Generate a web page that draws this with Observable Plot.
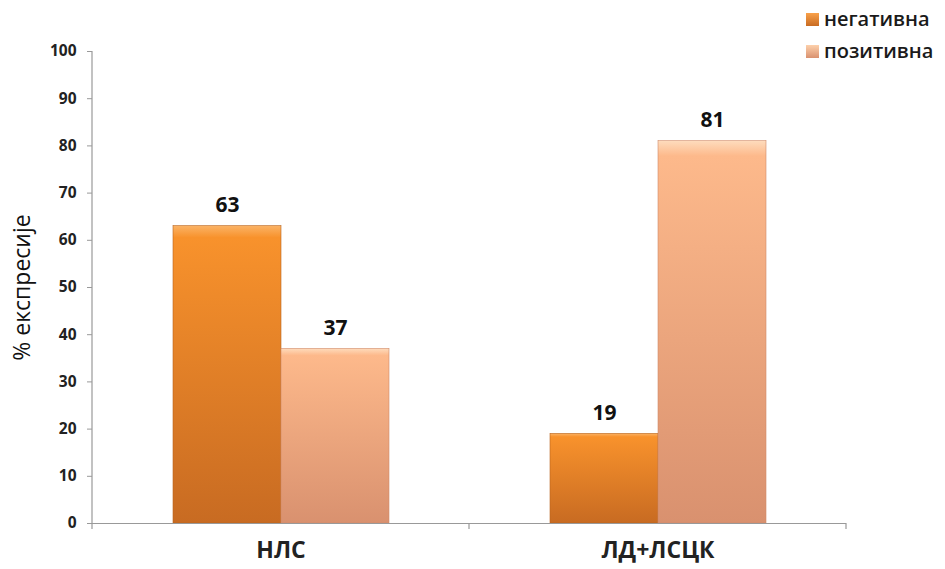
<!DOCTYPE html>
<html>
<head>
<meta charset="utf-8">
<script src="https://cdn.jsdelivr.net/npm/d3@7"></script>
<script src="https://cdn.jsdelivr.net/npm/@observablehq/plot@0.6"></script>
<style>
  html, body { margin: 0; padding: 0; background: #fff; }
  #wrap { position: relative; width: 945px; height: 569px; font-family: "Open Sans", sans-serif; }
  #legend { position: absolute; left: 806px; top: 3px; font-size: 20px; font-weight: 600; color: #1a1a1a; line-height: 32px; }
  #legend .item { display: flex; align-items: center; height: 32px; }
  #legend .sw { width: 13px; height: 13px; margin-right: 5px; }
</style>
</head>
<body>
<div id="wrap"><div id="legend"></div></div>
<script>
const categories = ["НЛС", "ЛД+ЛСЦК"];
const series = ["негативна", "позитивна"];
const negativna = [63, 19];
const pozitivna = [37, 81];
const yTicks = [0, 10, 20, 30, 40, 50, 60, 70, 80, 90, 100];
const yLabel = "% експресије";

const data = [];
categories.forEach((c, i) => {
  data.push({category: c, series: series[0], value: negativna[i]});
  data.push({category: c, series: series[1], value: pozitivna[i]});
});

const plot = Plot.plot({
  width: 945,
  height: 569,
  marginLeft: 92,
  marginRight: 99,
  marginTop: 51,
  marginBottom: 46,
  style: {fontFamily: "Open Sans, sans-serif", color: "#222", background: "#fff"},
  fx: {domain: categories, padding: 0},
  x: {domain: series, paddingInner: 0, paddingOuter: 0.745, axis: null},
  y: {domain: [0, 100]},
  marks: [
    Plot.barY(data.filter(d => d.series === series[0]), {fx: "category", x: "series", y: "value", fill: "url(#gNeg)", stroke: "#b8641f", strokeWidth: 0.6}),
    Plot.barY(data.filter(d => d.series === series[1]), {fx: "category", x: "series", y: "value", fill: "url(#gPos)", stroke: "#d08b6a", strokeWidth: 0.6}),
    Plot.ruleY([0], {stroke: "#999", strokeWidth: 1.2}),
    Plot.text(data, {fx: "category", x: "series", y: "value", text: d => String(d.value), lineAnchor: "bottom", dy: -14, fontSize: 21, fontWeight: "bold", fill: "#111"}),
    Plot.axisY({ticks: yTicks, tickSize: 5, tickPadding: 11, fontSize: 15.5, fontWeight: "bold", label: null, stroke: "#999", fill: "#222"}),
    Plot.text([{category: categories[0]}], {fx: "category", text: () => yLabel, frameAnchor: "left", textAnchor: "middle", rotate: -90, dx: -70, fontSize: 23, fill: "#111"}),
    Plot.axisFx({anchor: "bottom", tickSize: 0, tickPadding: 18, fontSize: 23, fontWeight: "bold", label: null})
  ]
});

// gradient defs
const svgNS = "http://www.w3.org/2000/svg";
const defs = document.createElementNS(svgNS, "defs");
defs.innerHTML = `
  <linearGradient id="gNeg" x1="0" y1="0" x2="0" y2="1">
    <stop offset="0" stop-color="#fbb366"/>
    <stop offset="0.04" stop-color="#f8922c"/>
    <stop offset="1" stop-color="#c86b22"/>
  </linearGradient>
  <linearGradient id="gPos" x1="0" y1="0" x2="0" y2="1">
    <stop offset="0" stop-color="#fedcbd"/>
    <stop offset="0.04" stop-color="#fdb98b"/>
    <stop offset="1" stop-color="#d9916f"/>
  </linearGradient>`;
plot.insertBefore(defs, plot.firstChild);

// axis lines and category separator ticks derived from the scales
const fx = plot.scale("fx"), y = plot.scale("y");
const y0 = y.apply(0), y100 = y.apply(100);
const left = fx.apply(categories[0]);
const g = document.createElementNS(svgNS, "g");
g.setAttribute("stroke", "#999");
g.setAttribute("stroke-width", "1.2");
const addLine = (x1, y1, x2, y2) => {
  const l = document.createElementNS(svgNS, "line");
  l.setAttribute("x1", x1); l.setAttribute("y1", y1);
  l.setAttribute("x2", x2); l.setAttribute("y2", y2);
  g.appendChild(l);
};
addLine(left, y100, left, y0 + 6);
categories.forEach(c => {
  const xr = fx.apply(c) + fx.bandwidth;
  addLine(xr, y0, xr, y0 + 6);
});
plot.appendChild(g);

document.getElementById("wrap").prepend(plot);
plot.style.position = "absolute"; plot.style.left = "0"; plot.style.top = "0";

const legend = document.getElementById("legend");
const grads = {"негативна": "linear-gradient(#f9a14a, #c86b22)", "позитивна": "linear-gradient(#fdd0ab, #d9916f)"};
series.forEach(s => {
  const it = document.createElement("div");
  it.className = "item";
  const sw = document.createElement("div");
  sw.className = "sw";
  sw.style.background = grads[s];
  it.appendChild(sw);
  const t = document.createElement("span");
  t.textContent = s;
  it.appendChild(t);
  legend.appendChild(it);
});
</script>
</body>
</html>
